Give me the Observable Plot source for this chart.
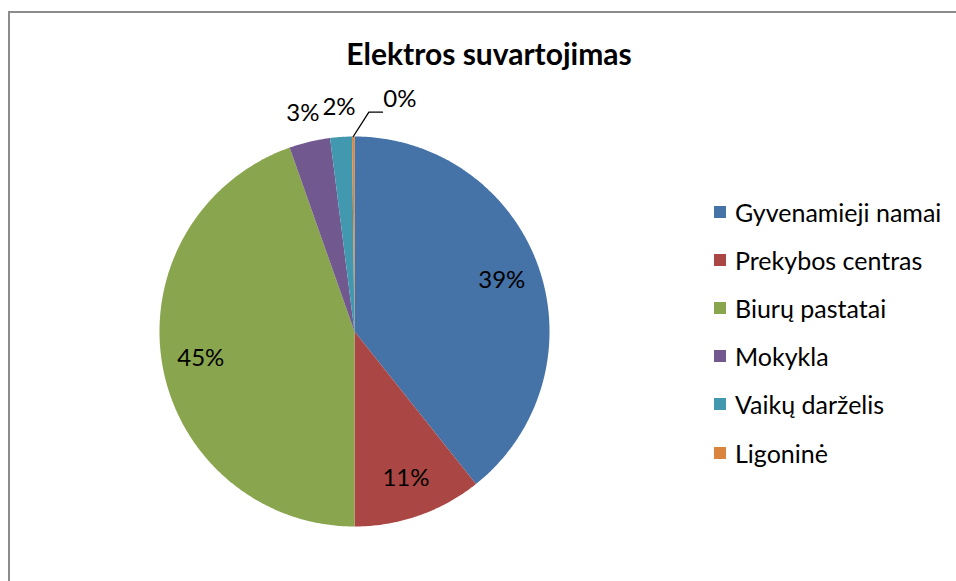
<!DOCTYPE html>
<html>
<head>
<meta charset="utf-8">
<script src="https://cdn.jsdelivr.net/npm/d3@7"></script>
<script src="https://cdn.jsdelivr.net/npm/@observablehq/plot@0.6"></script>
<style>
  html, body { margin: 0; padding: 0; background: #fff; }
  #wrap { position: relative; width: 956px; height: 581px; overflow: hidden; font-family: Lato, "Open Sans", sans-serif; }
  #border { position: absolute; left: 8px; top: 11px; width: 960px; height: 600px; border-top: 2px solid #8c8c8c; border-left: 2px solid #8c8c8c; }
  #title { position: absolute; left: 0; width: 978px; top: 35px; text-align: center; font-weight: bold; font-size: 30px; line-height: 36px; color: #000; }
  #chart { position: absolute; left: 0; top: 0; }
  #legend { position: absolute; left: 714px; top: 188px; }
  .item { display: flex; align-items: center; height: 48.1px; font-size: 25px; color: #000; }
  .sw { width: 12px; height: 12px; margin-right: 9px; }
</style>
</head>
<body>
<div id="wrap">
  <div id="border"></div>
  <div id="title">Elektros suvartojimas</div>
  <div id="chart"></div>
  <div id="legend"></div>
</div>
<script>
const categories = ["Gyvenamieji namai", "Prekybos centras", "Biurų pastatai", "Mokykla", "Vaikų darželis", "Ligoninė"];
const values = [39.3, 10.7, 44.6, 3.4, 1.8, 0.2];
const labels = ["39%", "11%", "45%", "3%", "2%", "0%"];
const colors = ["#4572a7", "#aa4643", "#89a54e", "#71588f", "#4198af", "#db843d"];

const pie = d3.pie().sort(null).value(d => d.value);
const arcs = pie(categories.map((name, i) => ({name, value: values[i], label: labels[i]})));

// polygon points for each slice (angles measured clockwise from top)
const pts = [];
for (const a of arcs) {
  const n = Math.max(2, Math.ceil((a.endAngle - a.startAngle) / 0.01));
  pts.push({name: a.data.name, x: 0, y: 0});
  for (let k = 0; k <= n; k++) {
    const t = a.startAngle + (a.endAngle - a.startAngle) * k / n;
    pts.push({name: a.data.name, x: Math.sin(t), y: Math.cos(t)});
  }
  pts.push({name: a.data.name, x: 0, y: 0});
}

const total = d3.sum(values);
const textData = arcs.map(a => {
  const mid = (a.startAngle + a.endAngle) / 2;
  const share = a.data.value / total;
  const r = share < 0.05 ? 1.15 : 0.8;
  return {label: a.data.label, share, x: Math.sin(mid) * r, y: Math.cos(mid) * r};
});
// tiny slice: label pushed to the right with a leader line
const tiny = arcs.filter(a => a.data.value / total < 0.01).map(a => {
  const mid = (a.startAngle + a.endAngle) / 2;
  return {x0: Math.sin(mid), y0: Math.cos(mid)};
});
const leader = [];
tiny.forEach((t, i) => {
  leader.push({id: i, x: t.x0, y: t.y0});
  leader.push({id: i, x: t.x0 + 0.08, y: t.y0 + 0.125});
  leader.push({id: i, x: t.x0 + 0.15, y: t.y0 + 0.125});
});
textData.forEach(d => { if (d.share < 0.01) { d.x += 0.24; d.y += 0.04; } });

const chart = Plot.plot({
  width: 956,
  height: 581,
  marginLeft: 159,
  marginRight: 407,
  marginTop: 136,
  marginBottom: 55,
  x: {domain: [-1, 1], axis: null},
  y: {domain: [-1, 1], axis: null},
  color: {domain: categories, range: colors},
  style: {fontFamily: "Lato, 'Open Sans', sans-serif", background: "transparent"},
  marks: [
    Plot.line(pts, {x: "x", y: "y", z: "name", fill: "name", stroke: "none", curve: "linear"}),
    Plot.line(leader, {x: "x", y: "y", z: "id", stroke: "#000", strokeWidth: 1.3}),
    Plot.text(textData, {x: "x", y: "y", text: "label", fontSize: 24, fill: "#000"})
  ]
});
document.getElementById("chart").appendChild(chart);

const legend = document.getElementById("legend");
categories.forEach((c, i) => {
  const it = document.createElement("div");
  it.className = "item";
  const sw = document.createElement("div");
  sw.className = "sw";
  sw.style.background = colors[i];
  const tx = document.createElement("span");
  tx.textContent = c;
  it.appendChild(sw); it.appendChild(tx);
  legend.appendChild(it);
});
</script>
</body>
</html>
